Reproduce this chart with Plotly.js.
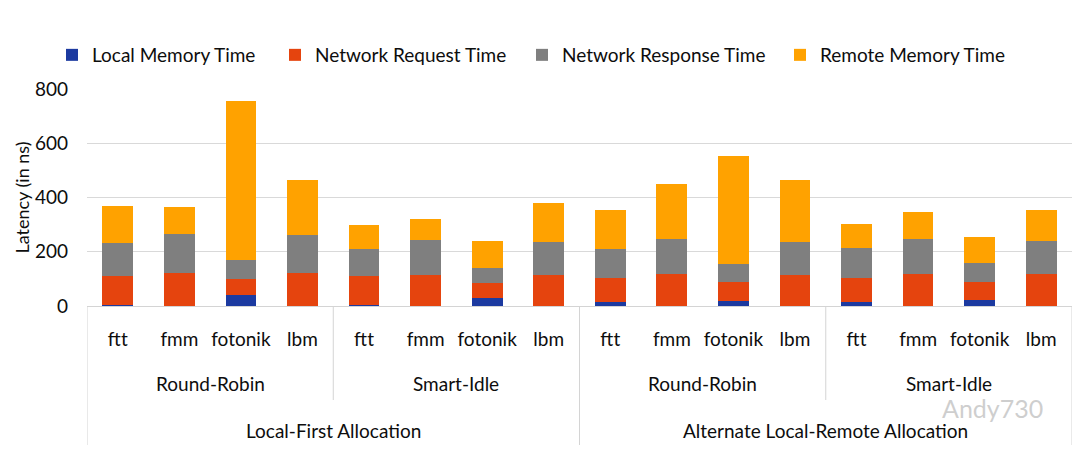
<!DOCTYPE html>
<html>
<head>
<meta charset="utf-8">
<script src="https://cdn.plot.ly/plotly-3.0.1.min.js"></script>
<style>
  html, body { margin: 0; padding: 0; background: #ffffff; }
  #chart { width: 1080px; height: 455px; }
</style>
</head>
<body>
<div id="chart"></div>
<script>
// ---- data ----
const benchmarks = ["ftt", "fmm", "fotonik", "lbm", "ftt", "fmm", "fotonik", "lbm",
                    "ftt", "fmm", "fotonik", "lbm", "ftt", "fmm", "fotonik", "lbm"];
const policies = ["Round-Robin", "Smart-Idle", "Round-Robin", "Smart-Idle"];
const allocations = ["Local-First Allocation", "Alternate Local-Remote Allocation"];
const seriesNames = ["Local Memory Time", "Network Request Time", "Network Response Time", "Remote Memory Time"];
const localMemory = [5, 0, 39, 0, 4, 0, 30, 0, 15, 0, 20, 0, 14, 0, 22, 0];
const networkRequest = [105, 122, 62, 122, 106, 116, 53, 116, 88, 117, 68, 116, 90, 117, 68, 117];
const networkResponse = [122, 143, 69, 138, 102, 129, 56, 121, 109, 129, 68, 121, 109, 129, 70, 122];
const remoteMemory = [135, 101, 587, 205, 88, 75, 100, 142, 141, 202, 396, 226, 88, 101, 93, 115];
const yTicks = [0, 200, 400, 600, 800];

// ---- styles ----
const colors = ["#1C3AA0", "#E5440E", "#7F7F7F", "#FFA200"];
const FONT = "Lato, 'Open Sans', sans-serif";
const txt = "#0d0d0d";

// unique category ids (allocation / policy / benchmark)
const perPolicy = 4;
const ids = benchmarks.map((b, i) => {
  const p = Math.floor(i / perPolicy);
  const a = Math.floor(p / 2);
  return allocations[a] + "|" + policies[p] + "|" + b;
});

const seriesValues = [localMemory, networkRequest, networkResponse, remoteMemory];
const legendNames = ["legend", "legend2", "legend3", "legend4"];
const traces = seriesValues.map((vals, k) => ({
  type: "bar",
  name: seriesNames[k],
  x: ids,
  y: vals,
  marker: { color: colors[k], line: { width: 0 } },
  legend: legendNames[k],
  hoverinfo: "name+y"
}));

// plot area geometry (pixels)
const plotTop = 89, plotBottom = 306, plotH = plotBottom - plotTop;
const py = (px) => (plotBottom - px) / plotH;
const plotL = 87, plotR = 1072, plotW = plotR - plotL;
const pxX = (px) => (px - plotL) / plotW;

// annotations: policy and allocation levels
const annotations = [];
policies.forEach((p, k) => {
  annotations.push({
    xref: "x", yref: "paper", x: k * perPolicy + (perPolicy - 1) / 2, y: py(383),
    text: p, showarrow: false, xanchor: "center", yanchor: "middle",
    font: { family: FONT, size: 19, color: txt }
  });
});
allocations.forEach((a, k) => {
  annotations.push({
    xref: "x", yref: "paper", x: k * perPolicy * 2 + perPolicy - 0.5, y: py(430),
    text: a, showarrow: false, xanchor: "center", yanchor: "middle",
    font: { family: FONT, size: 19, color: txt }
  });
});
// watermark
annotations.push({
  xref: "paper", yref: "paper", x: pxX(992), y: py(408),
  text: "Andy730", showarrow: false, xanchor: "center", yanchor: "middle",
  font: { family: FONT, size: 25, color: "rgba(190,190,190,0.75)" }
});

// separators
const shapes = [];
for (let k = 0; k <= policies.length; k++) {
  const xv = k * perPolicy - 0.5;
  const outer = (k % 2 === 0);
  shapes.push({
    type: "line", xref: "x", yref: "paper",
    x0: xv, x1: xv, y0: 0, y1: outer ? py(445) : py(400),
    line: { color: "#d4d4d4", width: 1 }
  });
}

// four legends, one per series, positioned like the original
const legendText = [92, 315, 562, 820];
const legendBase = {
  orientation: "h", yanchor: "middle", y: py(55), xanchor: "left",
  font: { family: FONT, size: 19, color: txt }, bgcolor: "rgba(0,0,0,0)",
  itemwidth: 30, tracegroupgap: 0
};
const layout = {
  width: 1080, height: 455,
  margin: { l: plotL, r: 1080 - plotR, t: plotTop, b: 455 - plotBottom, pad: 0 },
  paper_bgcolor: "#ffffff", plot_bgcolor: "#ffffff",
  barmode: "stack", bargap: 0.5,
  font: { family: FONT, color: txt },
  showlegend: true,
  xaxis: {
    type: "category", tickmode: "array", tickvals: ids, ticktext: benchmarks,
    tickfont: { family: FONT, size: 19, color: txt },
    ticks: "", ticklabelstandoff: 16,
    showline: true, linecolor: "#d4d4d4", linewidth: 1,
    showgrid: false, range: [-0.5, ids.length - 0.5], fixedrange: true
  },
  yaxis: {
    range: [0, 800], tickvals: yTicks, ticktext: yTicks.map(String),
    tickfont: { family: FONT, size: 19, color: txt },
    ticks: "", ticklabelstandoff: 18,
    showgrid: true, gridcolor: "#d9d9d9", gridwidth: 1,
    zeroline: false, showline: false,
    title: { text: "Latency (in ns)", font: { family: FONT, size: 18, color: txt }, standoff: 0 }
  },
  annotations: annotations,
  shapes: shapes
};
legendNames.forEach((ln, k) => {
  layout[ln] = Object.assign({}, legendBase, { x: pxX(legendText[k] - 40) });
});

Plotly.newPlot("chart", traces, layout, { displayModeBar: false, staticPlot: true });
</script>
</body>
</html>
